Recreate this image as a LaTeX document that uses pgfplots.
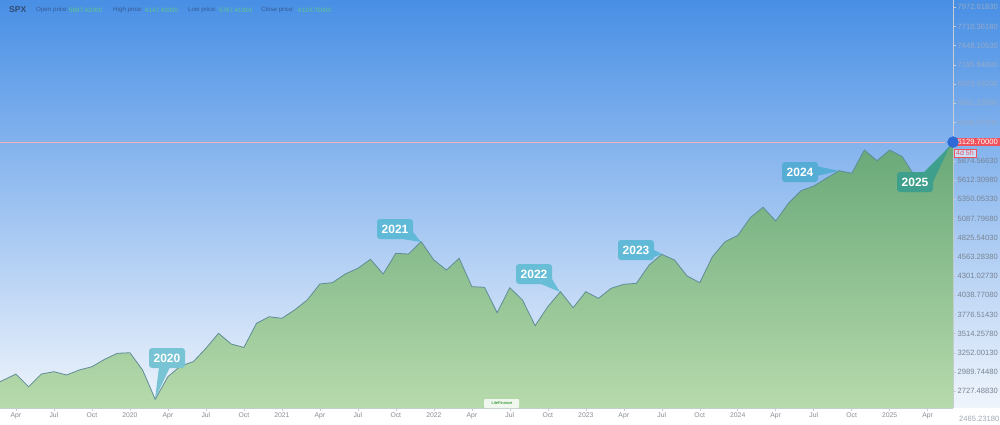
\documentclass[border=0pt]{standalone}
\usepackage{fontspec}
\setmainfont{Liberation Sans}
\usepackage{pgfplots}
\usepackage{pgfplotstable}
\pgfplotsset{compat=1.18}

\definecolor{bgtop}{RGB}{72,143,229}
\definecolor{bgmid}{RGB}{150,195,242}
\definecolor{bgbot}{RGB}{240,245,252}
\definecolor{gtop}{RGB}{104,168,120}
\definecolor{gbot}{RGB}{183,218,172}
\definecolor{linecol}{RGB}{95,140,150}
\definecolor{axisgray}{RGB}{200,205,212}
\definecolor{ylab}{RGB}{120,132,148}
\definecolor{ylabfade}{RGB}{150,170,200}
\definecolor{xlab}{RGB}{135,140,150}
\definecolor{pricered}{RGB}{238,82,92}
\definecolor{dotblue}{RGB}{45,105,215}
\definecolor{hdr}{RGB}{50,75,115}
\definecolor{hdrtxt}{RGB}{55,90,145}
\definecolor{hdrval}{RGB}{95,200,140}
\definecolor{cA}{RGB}{120,195,212}
\definecolor{cB}{RGB}{95,185,215}
\definecolor{cC}{RGB}{105,190,215}
\definecolor{cD}{RGB}{85,172,212}
\definecolor{cE}{RGB}{62,160,140}

% monthly closes, x = months from Jan 2020
\pgfplotstableread{
n v
-10.26 2857
-9 2962
-8 2789
-7 2962
-6 2994
-5 2949
-4 3017
-3 3062
-2 3163
-1 3245
0 3253
1 3017
2 2617
3 2926
4 3072
5 3130
6 3313
7 3518
8 3372
9 3325
10 3655
11 3745
12 3723
13 3837
14 3973
15 4192
16 4210
17 4328
18 4406
19 4529
20 4328
21 4611
22 4601
23 4770
24 4520
25 4383
26 4543
27 4155
28 4147
29 3800
30 4141
31 3973
32 3622
33 3882
34 4087
35 3868
36 4087
37 3996
38 4133
39 4188
40 4201
41 4451
42 4597
43 4520
44 4301
45 4210
46 4565
47 4770
48 4855
49 5100
50 5239
51 5052
52 5294
53 5466
54 5530
55 5636
56 5739
57 5704
58 6022
59 5876
60 6022
61 5930
62 5657
63 5708
64 5913
65 6129.7
}\spx

\begin{document}
\begin{tikzpicture}
\path[use as bounding box] (0,0) rectangle (1000pt,424pt);
\shade[top color=bgtop, middle color=bgmid, bottom color=bgbot] (0,16pt) rectangle (1000pt,424pt);
\fill[white] (0,0) rectangle (1000pt,16pt);
\begin{scope}[shift={(0,424pt)}, x=1pt, y=-1pt]
  \draw[pricered!45, line width=0.45pt] (0,142) -- (945,142);
  \node[fill=pricered, text=white, inner xsep=2pt, inner ysep=1.5pt, anchor=east,
        font=\fontsize{7.6}{8}\selectfont] at (1000,142) {6129.70000};
\end{scope}

\begin{axis}[
  at={(0pt,16pt)}, anchor=south west,
  scale only axis, width=953pt, height=408pt,
  xmin=-10.26, xmax=65, ymin=2498.1, ymax=8070.9,
  clip=false,
  axis x line*=bottom, axis y line*=right,
  axis line style={draw=axisgray, line width=0.6pt},
  tick style={draw=axisgray, line width=0.5pt},
  tick align=outside, major tick length=3pt,
  xtick={-9,-6,-3,0,3,6,9,12,15,18,21,24,27,30,33,36,39,42,45,48,51,54,57,60,63},
  xticklabels={Apr,Jul,Oct,2020,Apr,Jul,Oct,2021,Apr,Jul,Oct,2022,Apr,Jul,Oct,2023,Apr,Jul,Oct,2024,Apr,Jul,Oct,2025,Apr},
  xticklabel style={font=\fontsize{6.8}{7}\selectfont, text=xlab, inner sep=1.5pt},
  ytick={2727.4883,2989.7448,3252.0013,3514.2578,3776.5143,4038.7708,4301.0273,4563.2838,4825.5403,5087.7968,5350.0533,5612.3098,5874.5663,6399.0793,6661.3358,6923.5923,7185.8488,7448.1053,7710.3618,7972.6183},
  yticklabels={2727.48830,2989.74480,3252.00130,3514.25780,3776.51430,4038.77080,4301.02730,4563.28380,4825.54030,5087.79680,5350.05330,5612.30980,5874.56630,
    \textcolor{ylabfade}{6399.07930},\textcolor{ylabfade}{6661.33580},\textcolor{ylabfade}{6923.59230},\textcolor{ylabfade}{7185.84880},\textcolor{ylabfade}{7448.10530},\textcolor{ylabfade}{7710.36180},\textcolor{ylabfade}{7972.61830}},
  yticklabel style={font=\fontsize{7.6}{8}\selectfont, text=ylab, inner sep=1.5pt},
]
\addplot[draw=none, top color=gtop, bottom color=gbot] table[x=n,y=v] {\spx}
  -- (axis cs:65,2498.1) -- (axis cs:-10.26,2498.1) -- cycle;
\addplot[linecol, line width=0.8pt] table[x=n,y=v] {\spx};
\addplot[only marks, mark=*, mark size=5.5pt, mark options={fill=dotblue, draw=dotblue}] coordinates {(65,6129.7)};
\end{axis}

\begin{scope}[shift={(0,424pt)}, x=1pt, y=-1pt]
  % header
  \node[anchor=west, text=hdr, font=\bfseries\fontsize{8.5}{9}\selectfont, inner sep=0] at (9,10) {SPX};
  \begin{scope}[every node/.style={anchor=west, inner sep=0, font=\fontsize{6.2}{7}\selectfont}]
    \node[text=hdrtxt] at (36,10) {Open price:};
    \node[text=hdrval] at (69,10) {5897.42000};
    \node[text=hdrtxt] at (113,10) {High price:};
    \node[text=hdrval] at (145,10) {6147.43000};
    \node[text=hdrtxt] at (188,10) {Low price:};
    \node[text=hdrval] at (219,10) {5767.41000};
    \node[text=hdrtxt] at (261,10) {Close price:};
    \node[text=hdrval] at (298,10) {6129.70000};
  \end{scope}
  % bottom cut label
  \node[anchor=west, text=ylab!70, font=\fontsize{7.6}{8}\selectfont, inner sep=0] at (959,419) {2465.23180};
  % remaining time box
  \node[draw=pricered, fill=white, fill opacity=0.55, text opacity=1, text=pricered,
        font=\fontsize{7}{7}\selectfont, inner xsep=2pt, inner ysep=1.8pt, anchor=north west] at (954,148.5) {4d 5h};
  % logo
  \fill[white, opacity=0.8, rounded corners=1pt] (484,399) rectangle (519,408);
  \node[text=green!50!black, font=\fontsize{4}{4}\selectfont, inner sep=0] at (502,403.5) {LiteFinance};
  % callouts
  \tikzset{yl/.style={text=white, font=\bfseries\fontsize{12}{12}\selectfont, inner sep=0}}
  \fill[cA, rounded corners=3pt] (149,348) rectangle (185,368);
  \fill[cA] (159,367) -- (170,367) -- (155,399) -- cycle;
  \node[yl] at (167,358) {2020};
  \fill[cB, rounded corners=3pt] (377,219) rectangle (413,239);
  \fill[cB] (403,239) -- (413,232) -- (421,242) -- cycle;
  \node[yl] at (395,229) {2021};
  \fill[cC, rounded corners=3pt] (516,264) rectangle (552,284);
  \fill[cC] (541,284) -- (552,279) -- (560,292) -- cycle;
  \node[yl] at (534,274) {2022};
  \fill[cB, rounded corners=3pt] (618,240) rectangle (654,260);
  \fill[cB] (646,260) -- (654,250) -- (662,254) -- cycle;
  \node[yl] at (636,250) {2023};
  \fill[cD, rounded corners=3pt] (782,162) rectangle (818,182);
  \fill[cD] (816,166) -- (816,176) -- (839,171) -- cycle;
  \node[yl] at (800,172) {2024};
  \fill[cE, rounded corners=3pt] (897,172) rectangle (933,192);
  \fill[cE] (923,173) -- (933,182) -- (950,146) -- cycle;
  \node[yl] at (915,182) {2025};
\end{scope}
\end{tikzpicture}
\end{document}
